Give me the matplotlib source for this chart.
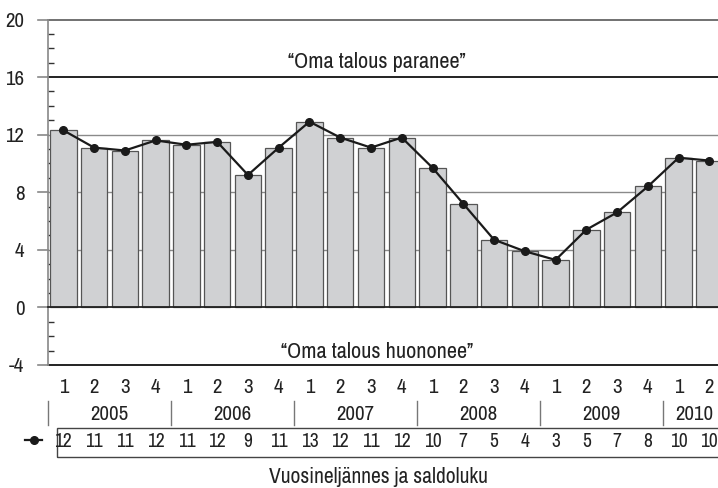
import matplotlib
matplotlib.use("Agg")
import matplotlib.pyplot as plt
import matplotlib.transforms as mtrans
from matplotlib.lines import Line2D
from matplotlib.patches import Rectangle

# saldoluku by quarter, 2005 Q1 .. 2010 Q2
quarters = ["1", "2", "3", "4"] * 5 + ["1", "2"]
years = ["2005", "2006", "2007", "2008", "2009", "2010"]
saldo = [12.3, 11.1, 10.9, 11.6, 11.3, 11.5, 9.2, 11.1, 12.9, 11.8, 11.1,
         11.8, 9.7, 7.2, 4.7, 3.9, 3.3, 5.4, 6.6, 8.4, 10.4, 10.2]
saldo_labels = ["12", "11", "11", "12", "11", "12", "9", "11", "13", "12", "11",
                "12", "10", "7", "5", "4", "3", "5", "7", "8", "10", "10"]
y_ticks = [20, 16, 12, 8, 4, 0, -4]

plt.rcParams['font.family'] = ['Archivo Narrow', 'Liberation Sans', 'DejaVu Sans']
txt = "#222222"

fig = plt.figure(figsize=(7.18, 4.88), dpi=100)
ax = fig.add_axes([48 / 718, 1 - 365 / 488, 1 - 48 / 718, (365 - 19.5) / 488])

x = list(range(len(saldo)))
ax.set_xlim(-0.5, 21.28)
ax.set_ylim(-4, 20)

# horizontal lines, behind the bars
for v, c in [(4, "#8a8a8a"), (8, "#8a8a8a"), (12, "#8a8a8a"), (16, "#111111"),
             (20, "#666666"), (0, "#222222"), (-4, "#111111")]:
    ax.axhline(v, color=c, lw=1.3 if v in (16, 0, -4, 20) else 1.0,
               zorder=3 if v == 0 else 0, clip_on=False)
    # major tick sticking out left of the spine
    ax.plot([-0.5 - 10 / 30.76, -0.5], [v, v], color="#888888", lw=1.2, clip_on=False)

ax.bar(x, saldo, width=0.86, color="#d0d1d3", edgecolor="#555555", linewidth=0.9, zorder=2)
ax.plot(x, saldo, color="#1a1a1a", lw=1.6, marker="o", markersize=5.5, zorder=4)

for s in ["top", "right", "bottom"]:
    ax.spines[s].set_visible(False)
ax.spines["left"].set_color("#888888")
ax.spines["left"].set_linewidth(1.2)
ax.set_xticks([])
ax.set_yticks(range(-4, 21), minor=True)
ax.set_yticks(y_ticks)
ax.set_yticklabels([str(v) for v in y_ticks], fontsize=15, color=txt)
ax.tick_params(axis="y", which="major", length=0, pad=17)
ax.tick_params(axis="y", which="minor", direction="in", length=4, width=1.0, color="#333333")

ax.text(10.2, 16.35, "\u201cOma talous paranee\u201d", ha="center", va="bottom", fontsize=16, color=txt)
ax.text(10.2, -3.1, "\u201cOma talous huononee\u201d", ha="center", va="center", fontsize=16, color=txt)

tr = mtrans.blended_transform_factory(ax.transData, fig.transFigure)
for i, q in enumerate(quarters):
    fig.text(i, 0.205, q, transform=tr, ha="center", va="center", fontsize=15, color=txt)
for k, yr in enumerate(years):
    start = k * 4 - 0.5
    end = min(start + 4, len(saldo) - 0.5)
    fig.text((start + end) / 2, 0.150, yr, transform=tr, ha="center", va="center",
             fontsize=15, color=txt)
    fig.add_artist(Line2D([start, start], [0.129, 0.178], transform=tr, color="#777777", lw=1.0))

fig.add_artist(Rectangle((-0.2, 0.064), 22, 0.059, transform=tr, fill=False,
                         edgecolor="#444444", lw=1.0))
for i, lab in enumerate(saldo_labels):
    fig.text(i, 0.096, lab, transform=tr, ha="center", va="center", fontsize=14, color=txt)
fig.add_artist(Line2D([25 / 718, 42 / 718], [0.098, 0.098], transform=fig.transFigure,
                      color="#1a1a1a", lw=1.6))
fig.add_artist(Line2D([33.5 / 718], [0.098], transform=fig.transFigure,
                      color="#1a1a1a", marker="o", markersize=5.5))

fig.text(378 / 718, 0.022, "Vuosineljännes ja saldoluku", ha="center", va="center",
         fontsize=15.5, color=txt)

fig.savefig("out.png", dpi=100)
